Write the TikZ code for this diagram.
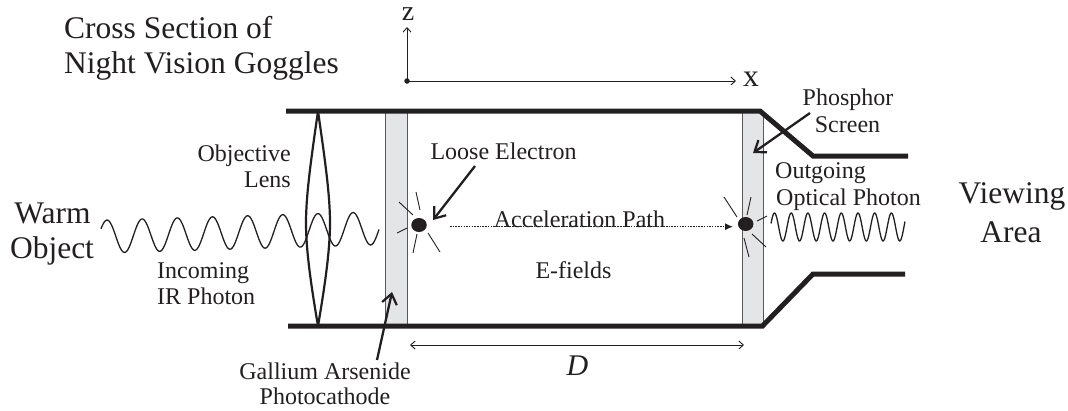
\documentclass[tikz,border=0pt]{standalone}
\usepackage{fontspec}
\setmainfont{Liberation Serif}
\usetikzlibrary{arrows.meta,shapes.geometric}
\definecolor{ink}{HTML}{231F20}
\definecolor{plate}{HTML}{E4E5E7}
\tikzset{
  tube/.style={draw=ink,line width=5pt,line join=miter},
  platebox/.style={draw=ink!75,line width=1.1pt,fill=plate},
  ray/.style={draw=ink,line width=0.9pt},
  wave/.style={draw=ink,line width=1.3pt},
  lensline/.style={draw=ink,line width=2.2pt},
  pointer/.style={draw=ink,line width=2.3pt,-{Straight Barb[length=10pt,width=15pt,line width=2.2pt]}},
  dimtip/.style={-{Straight Barb[length=4.5pt,width=8pt,line width=0.9pt]}},
  thin arrow/.style={draw=ink,line width=1pt,dimtip},
  lab/.style={text=ink,font=\fontsize{24}{28}\selectfont,inner sep=0pt,anchor=base},
  big/.style={text=ink,font=\fontsize{31.5}{36}\selectfont,inner sep=0pt,anchor=base},
  electron/.style={ellipse,fill=ink,draw=none,minimum width=15.5pt,minimum height=14pt,inner sep=0pt},
}
\begin{document}
\begin{tikzpicture}[x=1pt,y=-1pt]
\useasboundingbox (0,0) rectangle (1068,410);
% plates
\node[platebox,minimum width=22pt,minimum height=215pt,inner sep=0pt,anchor=north west] (cathode) at (384.5,111) {};
\node[platebox,minimum width=21pt,minimum height=215pt,inner sep=0pt,anchor=north west] (screen) at (741.7,111) {};
% tube
\coordinate (t1) at (286,111); \coordinate (t2) at (760,111); \coordinate (t3) at (813,156); \coordinate (t4) at (908,156);
\coordinate (b1) at (288,326); \coordinate (b2) at (762.5,326); \coordinate (b3) at (813,274); \coordinate (b4) at (905,274);
\draw[tube] (t1) -- (t2) -- (t3) -- (t4);
\draw[tube] (b1) -- (b2) -- (b3) -- (b4);
% lens
\coordinate (lt) at (318,111); \coordinate (lb) at (318,326);
\draw[lensline] (lt) .. controls (311,160) and (306,195) .. (306,223) .. controls (306,250) and (311,285) .. (lb);
\draw[lensline] (lt) .. controls (325,160) and (330,195) .. (330,223) .. controls (330,250) and (325,285) .. (lb);
% waves
\draw[wave] plot[domain=101:379,samples=240,smooth] (\x,{236.5-7.5*(\x-107)/246-16.5*cos((\x-107)/35.15*360)});
\draw[wave] plot[domain=771:905,samples=200,smooth] (\x,{227-14*cos((\x-774.5)/16.7*360)});
% electrons
\node[electron] (e1) at (419,225) {};
\node[electron] (e2) at (745.7,224) {};
\draw[ray] (399,202) -- (413,215);
\draw[ray] (416,192) -- (420,210);
\draw[ray] (397,233) -- (407,228);
\draw[ray] (413,253) -- (417,234);
\draw[ray] (440,252) -- (428,233);
\draw[ray] (724,197) -- (737,217);
\draw[ray] (751,197) -- (747,215);
\draw[ray] (767,216) -- (757,221);
\draw[ray] (752,234) -- (766,247);
\draw[ray] (744,238) -- (749,257);
% texts
\node[big,anchor=base west] (title1) at (64,38) {Cross Section of};
\node[big,anchor=base west] (title2) at (64,73) {Night Vision Goggles};
\node[big,font=\fontsize{28}{32}\selectfont] (zlab) at (408,20) {z};
\node[big] (xlab) at (751,86) {x};
\node[big] (warm) at (52.5,223) {Warm};
\node[big] (obj) at (52,258) {Object};
\node[big] (view) at (1012,203) {Viewing};
\node[big] (area) at (1011,242) {Area};
\node[big,font=\fontsize{30}{36}\selectfont\itshape] (dlab) at (577.5,375) {D};
\node[lab,anchor=base east] (o1) at (291,161) {Objective};
\node[lab,anchor=base east] (o2) at (291,187) {Lens};
\node[lab,anchor=base west] (i1) at (157,278) {Incoming};
\node[lab,anchor=base west] (i2) at (157,304) {IR Photon};
\node[lab] (loose) at (503.5,159) {Loose Electron};
\node[lab] (accel) at (579.5,227) {Acceleration Path};
\node[lab] (efield) at (573.5,278) {E-fields};
\node[lab] (ph1) at (848,105) {Phosphor};
\node[lab] (ph2) at (847.5,132) {Screen};
\node[lab,anchor=base west] (out1) at (775,178) {Outgoing};
\node[lab,anchor=base west] (out2) at (776,205) {Optical Photon};
\node[lab] (ga1) at (325,379) {Gallium Arsenide};
\node[lab] (ga2) at (325,404) {Photocathode};
% pointers
\coordinate (lp) at (475,166); \coordinate (lq) at (433,220);
\draw[pointer] (lp) -- (lq);
\coordinate (gp) at (377,360); \coordinate (gq) at (392,292);
\draw[pointer] (gp) -- (gq);
\coordinate (pp) at (810,113); \coordinate (pq) at (753,153);
\draw[pointer] (pp) -- (pq);
% path
\coordinate (a0) at (450,226.7); \coordinate (a1) at (733,226.7);
\draw[draw=ink,line width=1.1pt,dash pattern=on 1.5pt off 1.2pt,-{Latex[length=8pt,width=7pt]}] (a0) -- (a1);
% dimension
\coordinate (d0) at (410,345); \coordinate (d1) at (744,345);
\draw[draw=ink,line width=1pt,{Straight Barb[length=4.5pt,width=8pt,line width=0.9pt]}-{Straight Barb[length=4.5pt,width=8pt,line width=0.9pt]}] (d0) -- (d1);
% axes
\node[circle,fill=ink,minimum size=5.5pt,inner sep=0pt] (origin) at (407,81) {};
\coordinate (zt) at (407,27); \coordinate (xt) at (736,81);
\draw[thin arrow] (origin.center) -- (zt);
\draw[thin arrow] (origin.center) -- (xt);
\end{tikzpicture}
\end{document}
